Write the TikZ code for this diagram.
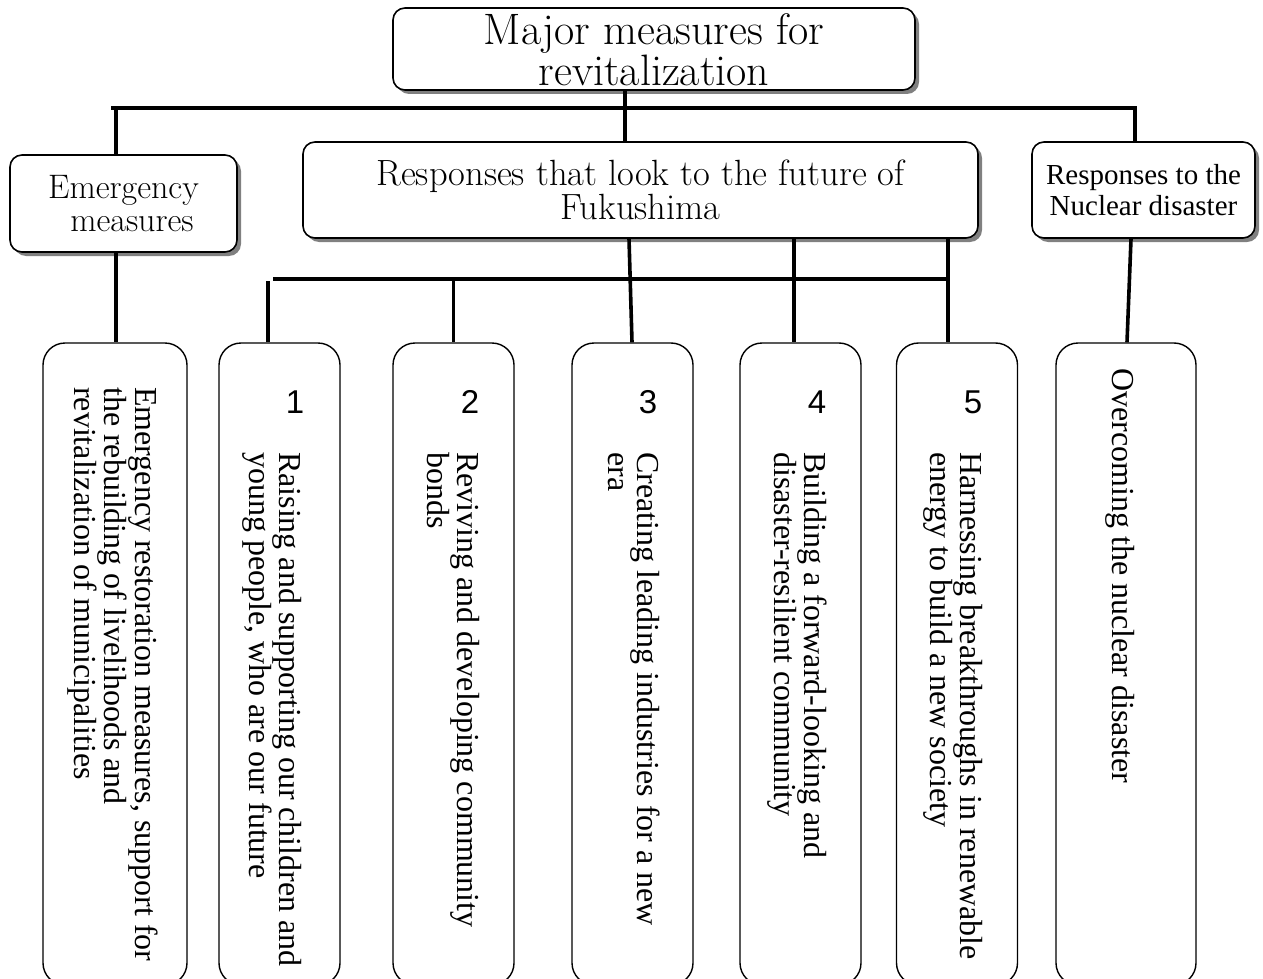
\documentclass[tikz,border=0pt]{standalone}
\usepackage{fontspec}
\newfontfamily\timesf{Liberation Serif}
\newfontfamily\sansf{Liberation Sans}
\usetikzlibrary{shadows}
\begin{document}
\begin{tikzpicture}[x=1pt,y=-1pt,
  topbox/.style={draw, line width=1.6pt, rounded corners=12pt, fill=white,
    drop shadow={shadow xshift=4pt, shadow yshift=-4pt, fill=black!50, opacity=1},
    inner sep=0pt, align=center},
  tallbox/.style={draw, line width=1.4pt, rounded corners=22pt, fill=white, inner sep=0pt, minimum height=642pt},
  conn/.style={line width=3.6pt},
  vtext/.style={rotate=-90, anchor=north west, inner sep=0pt, align=left, font=\timesf\fontsize{32}{29}\selectfont},
  digit/.style={font=\sansf\fontsize{33}{33}\selectfont, inner sep=0pt}]
\useasboundingbox (0,0) rectangle (1263,979);
\clip (0,0) rectangle (1263,979);

% top row boxes
\node[topbox, minimum width=522pt, minimum height=82pt, font=\fontsize{44}{35}\selectfont] (top) at (654,49) {\rule{0pt}{32pt}Major measures for\\revitalization};
\node[topbox, minimum width=227pt, minimum height=97pt, font=\fontsize{34}{33}\selectfont] (emerg) at (123.5,203.5) {Emergency\\\hspace*{0.5em}measures};
\node[topbox, minimum width=675pt, minimum height=96pt, font=\fontsize{36.5}{34}\selectfont] (fut) at (640.5,190) {Responses that look to the future of\\Fukushima};
\node[topbox, minimum width=223pt, minimum height=96pt, font=\timesf\fontsize{29}{31}\selectfont] (nuc) at (1143.5,190) {Responses to the\\Nuclear disaster};

% tall boxes
\node[tallbox, minimum width=144pt] (bE) at (115,664) {};
\node[tallbox, minimum width=121pt] (b1) at (279.5,664) {};
\node[tallbox, minimum width=121pt] (b2) at (453.5,664) {};
\node[tallbox, minimum width=121pt] (b3) at (632.5,664) {};
\node[tallbox, minimum width=121pt] (b4) at (800.5,664) {};
\node[tallbox, minimum width=121pt] (b5) at (957,664) {};
\node[tallbox, minimum width=140pt] (bO) at (1126,664) {};

% digits
\node[digit] (d1) at (295,402) {1};
\node[digit] (d2) at (470,402) {2};
\node[digit] (d3) at (648,402) {3};
\node[digit] (d4) at (817,402) {4};
\node[digit] (d5) at (973,402) {5};

% vertical texts
\node[vtext] (tE) at (158,387) {Emergency restoration measures, support for\\the rebuilding of livelihoods and\\revitalization of municipalities};
\node[vtext] (t1) at (302,452) {Raising and supporting our children and\\young people, who are our future};
\node[vtext] (t2) at (480,452) {Reviving and developing community\\bonds};
\node[vtext] (t3) at (660,452) {Creating leading industries for a new\\era};
\node[vtext] (t4) at (827,452) {Building a forward-looking and\\disaster-resilient community};
\node[vtext] (t5) at (983,452) {Harnessing breakthroughs in renewable\\energy to build a new society};
\node[vtext] (tO) at (1135,368) {Overcoming the nuclear disaster};

% connectors, first level
\coordinate (barL) at (111,108);
\coordinate (barR) at (1137,108);
\coordinate (jl) at (116,108);
\coordinate (jr) at (1135,108);
\draw[conn] (barL) -- (barR);
\draw[conn] ([xshift=-29pt]top.south) -- ([xshift=-15.5pt]fut.north);
\draw[conn] (jl) -- (jl |- emerg.north);
\draw[conn] (jr) -- (jr |- nuc.north);
\draw[conn] (jl |- emerg.south) -- (jl |- bE.north);
\draw[conn] ([xshift=-12.5pt]nuc.south) -- ([xshift=1pt]bO.north);

% connectors, second level
\coordinate (b1t) at ([xshift=-11.5pt]b1.north);
\coordinate (b4t) at ([xshift=-6.5pt]b4.north);
\coordinate (b5t) at ([xshift=-9pt]b5.north);
\coordinate (sl) at (273,279);
\coordinate (sr) at (b5t |- sl);
\draw[conn] (sl) -- (sr);
\draw[conn] (b1t) -- ([yshift=-2pt]b1t |- sl);
\draw[conn] (b2.north |- sl) -- (b2.north);
\draw[conn] ([xshift=-11.5pt]fut.south) -- ([xshift=-0.5pt]b3.north);
\draw[conn] (b4t |- fut.south) -- (b4t);
\draw[conn] (b5t |- fut.south) -- (b5t);
\end{tikzpicture}
\end{document}
